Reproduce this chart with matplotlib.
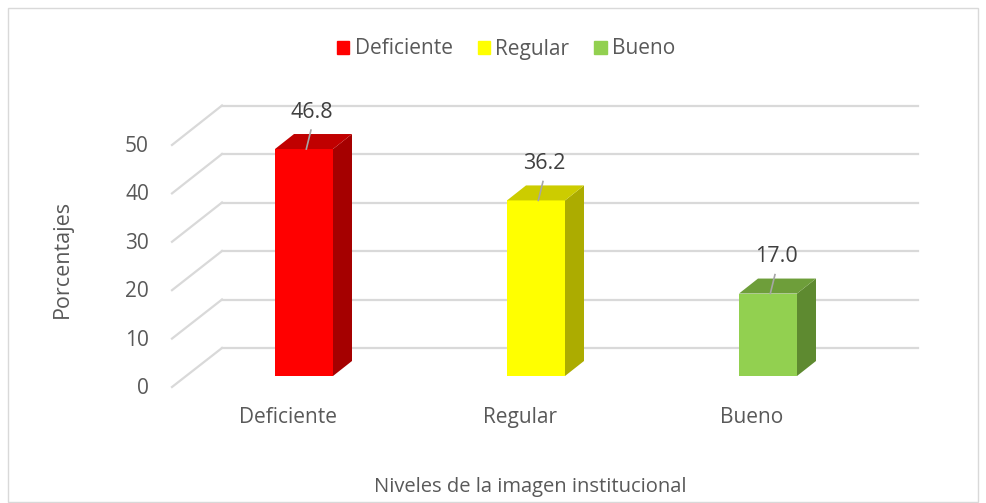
import matplotlib
matplotlib.use("Agg")
import matplotlib.pyplot as plt
import matplotlib.patches as patches
from matplotlib.patches import Polygon

# data
categories = ["Deficiente", "Regular", "Bueno"]
values = [46.8, 36.2, 17.0]
yticks = [0, 10, 20, 30, 40, 50]

face_colors = ["#FF0000", "#FFFF00", "#92D050"]
side_colors = ["#A50000", "#ACAC00", "#5E8A30"]
top_colors = ["#C00000", "#CCCC00", "#6E9E3A"]

plt.rcParams['font.family'] = ['Open Sans', 'DejaVu Sans']
text_col = "#595959"
grid_col = "#D9D9D9"

fig = plt.figure(figsize=(9.87, 5.03), dpi=100)
ax = fig.add_axes([0, 0, 1, 1])

# pixel mapping: category i -> 304 + 232*i px, value v -> 376 - 4.85*v px
px_x = 232.0
px_y = 4.85
ax.set_xlim((0 - 304) / px_x, (987 - 304) / px_x)
ax.set_ylim((376 - 503) / px_y, 376 / px_y)
ax.axis("off")

bar_w = 58 / px_x
dx = 19 / px_x
dy = 15 / px_y

# back wall gridlines and the diagonal floor edges
wall_x0 = (222 - 304) / px_x
wall_x1 = (918 - 304) / px_x
wall_dy = (376 - 348) / px_y
front_x = (172 - 304) / px_x
front_dy = (376 - 387) / px_y
for t in yticks:
    ax.plot([wall_x0, wall_x1], [t + wall_dy, t + wall_dy], color=grid_col, lw=1.6, zorder=1)
    ax.plot([front_x, wall_x0], [t * 0.998 + front_dy, t + wall_dy], color=grid_col, lw=1.6, zorder=1)
    ax.text((149 - 304) / px_x, t * 0.998 + front_dy - 0.3, str(t), ha="right", va="center",
            fontsize=15, color=text_col)

# 3d-looking bars
xs = list(range(len(categories)))
ax.bar(xs, values, width=bar_w, color=face_colors, zorder=3)
for i, v in enumerate(values):
    xr = i + bar_w / 2
    xl = i - bar_w / 2
    side = Polygon([(xr, 0), (xr + dx, dy), (xr + dx, v + dy), (xr, v)],
                   closed=True, facecolor=side_colors[i], edgecolor="none", zorder=3)
    top = Polygon([(xl, v), (xr, v), (xr + dx, v + dy), (xl + dx, v + dy)],
                  closed=True, facecolor=top_colors[i], edgecolor="none", zorder=3)
    ax.add_patch(side)
    ax.add_patch(top)
    # leader line and value label
    ax.plot([i + 0.01, i + 0.03], [v, v + 3.9], color="#A6A6A6", lw=1.2, zorder=4)
    ax.text(i + 0.035, v + 7.6, f"{v:.1f}", ha="center", va="center",
            fontsize=15.5, color="#404040", zorder=5)
    ax.text(i - 0.07, -8.6, categories[i], ha="center", va="center",
            fontsize=15, color=text_col)

# axis titles
ax.text((62 - 304) / px_x, (376 - 259) / px_y, "Porcentajes", rotation=90,
        ha="center", va="center", fontsize=15.5, color=text_col)
ax.text((530 - 304) / px_x, (376 - 487) / px_y, "Niveles de la imagen institucional",
        ha="center", va="center", fontsize=14.5, color=text_col)

# legend
handles = [patches.Patch(color=c, label=l) for c, l in zip(face_colors, categories)]
fig.legend(handles=handles, loc="center", bbox_to_anchor=(506 / 987, 1 - 49 / 503),
           ncol=3, frameon=False, fontsize=15, labelcolor=text_col,
           handlelength=0.6, handleheight=0.6, handletextpad=0.25, columnspacing=1.2)

# chart border
fig.patches.append(patches.Rectangle((8 / 987, 0.002), 970 / 987, 1 - 8 / 503 - 0.002,
                                     transform=fig.transFigure, fill=False,
                                     edgecolor=grid_col, lw=1))

fig.savefig("out.png", dpi=100)
